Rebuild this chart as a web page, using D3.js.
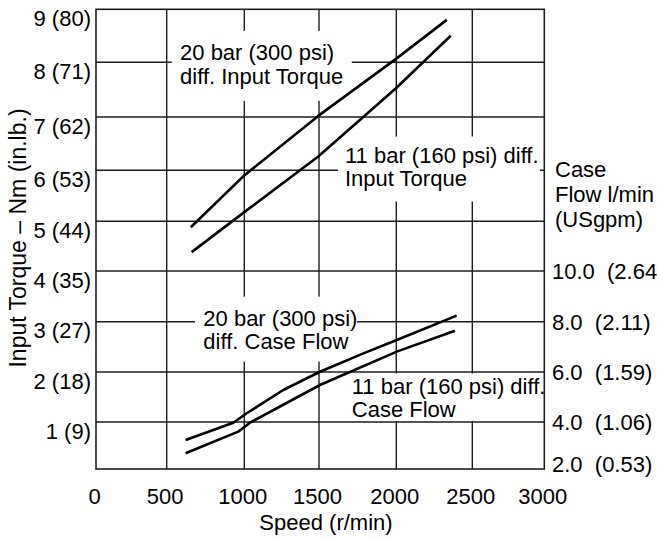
<!DOCTYPE html>
<html><head><meta charset="utf-8">
<script src="https://cdn.jsdelivr.net/npm/d3@7/dist/d3.min.js"></script>
<style>
html,body{margin:0;padding:0;background:#fff;}
svg{display:block;font-family:"Liberation Sans",Arial,Helvetica,sans-serif;}
</style>
</head><body>
<svg id="chart" width="657" height="539"></svg>
<script>
// ---------------- data ----------------
const speedTicks = [0, 500, 1000, 1500, 2000, 2500, 3000];
const torqueTicks = [1, 2, 3, 4, 5, 6, 7, 8, 9];
const torqueLabels = ["1 (9)", "2 (18)", "3 (27)", "4 (35)", "5 (44)", "6 (53)", "7 (62)", "8 (71)", "9 (80)"];
const flowTicks = [2, 4, 6, 8, 10];
const flowLabels = ["2.0  (0.53)", "4.0  (1.06)", "6.0  (1.59)", "8.0  (2.11)", "10.0  (2.64)"];

// Input torque (Nm) vs speed (r/min)
const torque20Speed = [655, 1000, 1495, 1996, 2332];
const torque20 = [4.88, 5.90, 7.02, 8.06, 8.80];
const torque11Speed = [661, 1000, 1495, 1996, 2358];
const torque11 = [4.38, 5.18, 6.26, 7.52, 8.50];

// Case flow (l/min) vs speed (r/min)
const flow20Speed = [622, 929, 1016, 1261, 1506, 1787, 2003, 2397];
const flow20 = [3.23, 3.97, 4.35, 5.28, 6.01, 6.74, 7.27, 8.24];
const flow11Speed = [622, 961, 1038, 1506, 2003, 2386];
const flow11 = [2.67, 3.59, 3.97, 5.48, 6.81, 7.64];

const notes = [
  {lines: ["20 bar (300 psi)", "diff. Input Torque"], speed: 586, torque: 8.04, box: [-8.3, -29.3, 171.7, 40.7]},
  {lines: ["11 bar (160 psi) diff.", "Input Torque"], speed: 1668, torque: 6.14, box: [-7, -26.3, 195, 38.7]},
  {lines: ["20 bar (300 psi)", "diff. Case Flow"], speed: 736, torque: 2.915, box: [-8.3, -29.3, 153.7, 35.7]},
  {lines: ["11 bar (160 psi) diff.", "Case Flow"], speed: 1712, torque: 1.57, box: [-3.7, -20, 192, 27.5]}
];

// ---------------- layout ----------------
const FS = 22;
const svg = d3.select("#chart");
const x = d3.scaleLinear().domain(speedTicks).range([96, 166.7, 244.3, 319, 396.3, 472.3, 544.3]);
const y = d3.scaleLinear().domain([0, 1, 2, 3, 4, 5, 6, 7, 8, 9])
  .range([469, 422, 372, 321.7, 271, 221.3, 170.3, 117, 62.3, 9.3]);
const yFlow = d3.scaleLinear().domain(y.domain().map(t => 2 + 2 * t)).range(y.range());

const gridColor = "#1e1e1e";
// grid
svg.append("g").selectAll("line").data(speedTicks.slice(1, -1)).join("line")
  .attr("x1", d => x(d)).attr("x2", d => x(d)).attr("y1", y(9)).attr("y2", y(0))
  .attr("stroke", gridColor).attr("stroke-width", 1.4);
svg.append("g").selectAll("line").data(torqueTicks.slice(0, -1)).join("line")
  .attr("x1", x(0)).attr("x2", x(3000)).attr("y1", d => y(d)).attr("y2", d => y(d))
  .attr("stroke", gridColor).attr("stroke-width", 1.4);

// annotation boxes (white, mask the grid)
svg.append("g").selectAll("rect").data(notes).join("rect")
  .attr("x", d => x(d.speed) + d.box[0]).attr("y", d => y(d.torque) + d.box[1])
  .attr("width", d => d.box[2] - d.box[0]).attr("height", d => d.box[3] - d.box[1])
  .attr("fill", "#fff");

// frame
svg.append("rect").attr("x", x(0)).attr("y", y(9)).attr("width", x(3000) - x(0)).attr("height", y(0) - y(9))
  .attr("fill", "none").attr("stroke", gridColor).attr("stroke-width", 1.6);

// curves
const tLine = d3.line().x(d => x(d[0])).y(d => y(d[1]));
const fLine = d3.line().x(d => x(d[0])).y(d => yFlow(d[1]));
const curves = [
  {gen: tLine, pts: d3.zip(torque20Speed, torque20)},
  {gen: tLine, pts: d3.zip(torque11Speed, torque11)},
  {gen: fLine, pts: d3.zip(flow20Speed, flow20)},
  {gen: fLine, pts: d3.zip(flow11Speed, flow11)}
];
svg.append("g").selectAll("path").data(curves).join("path")
  .attr("d", d => d.gen(d.pts)).attr("fill", "none").attr("stroke", "#000")
  .attr("stroke-width", 2.6).attr("stroke-linejoin", "round");

// annotation texts
const nt = svg.append("g").selectAll("text").data(notes).join("text")
  .attr("x", d => x(d.speed)).attr("y", d => y(d.torque))
  .attr("font-size", FS).attr("fill", "#000");
nt.selectAll("tspan").data(d => d.lines.map((l, i) => ({l, i, d}))).join("tspan")
  .attr("x", o => x(o.d.speed)).attr("dy", o => o.i === 0 ? 0 : 23.5).text(o => o.l);

// axes
const ax = svg.append("g").attr("transform", "translate(-2,504)")
  .call(d3.axisBottom(x).tickValues(speedTicks).tickSize(0).tickFormat(d3.format("d")));
ax.select(".domain").remove();
ax.selectAll("text").attr("y", 0).attr("dy", 0).attr("font-size", FS).attr("fill", "#000")
  .attr("font-family", null);

const ay = svg.append("g").attr("transform", "translate(91,16)")
  .call(d3.axisLeft(y).tickValues(torqueTicks).tickSize(0).tickFormat((d, i) => torqueLabels[i]));
ay.select(".domain").remove();
ay.selectAll("text").attr("x", 0).attr("dy", 0).attr("font-size", FS).attr("fill", "#000")
  .attr("font-family", null);

const ar = svg.append("g").attr("transform", "translate(552,0)")
  .call(d3.axisRight(yFlow).tickValues(flowTicks).tickSize(0).tickFormat((d, i) => flowLabels[i]));
ar.select(".domain").remove();
ar.selectAll("text").attr("x", 0).attr("dy", 0)
  .attr("y", d => d === flowTicks[0] ? 2 : 7.5)
  .attr("font-size", FS).attr("fill", "#000")
  .attr("font-family", null).style("white-space", "pre");

// titles
svg.append("text").attr("x", 326).attr("y", 530).attr("text-anchor", "middle")
  .attr("font-size", FS).text("Speed (r/min)");
svg.append("text").attr("transform", "translate(26,238) rotate(-90)").attr("text-anchor", "middle")
  .attr("font-size", 23).text("Input Torque – Nm (in.lb.)");
svg.append("text").attr("font-size", FS).selectAll("tspan")
  .data(["Case", "Flow l/min", "(USgpm)"]).join("tspan")
  .attr("x", 555).attr("y", (d, i) => 177 + i * 25).text(d => d);
</script>
</body></html>
